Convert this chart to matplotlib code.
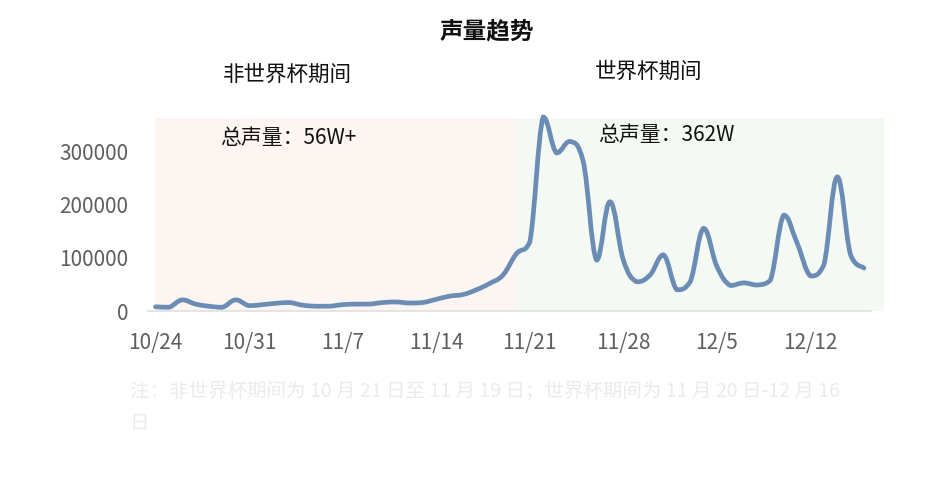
import matplotlib
matplotlib.use("Agg")
from matplotlib import pyplot as plt
import matplotlib.dates as mdates
from matplotlib.path import Path
from matplotlib.patches import PathPatch
import numpy as np
import pandas as pd

plt.rcParams['font.family'] = ['Noto Sans CJK SC', 'DejaVu Sans']

# daily volume 10/24 - 12/16
dates = pd.date_range('2022-10-24', '2022-12-16')
volume = [8000, 7000, 21000, 13000, 9000, 7000, 21000, 10000, 12000, 14500,
          16000, 11000, 9000, 9000, 12000, 13000, 13000, 16000, 17000, 15000,
          16000, 22000, 28000, 31000, 40000, 52000, 68000, 108000, 130000, 366000,
          298000, 320000, 282000, 96000, 206000, 96000, 55000, 68000, 106000, 40000,
          55000, 156000, 84000, 48000, 53000, 49000, 58000, 181000, 128000, 66000,
          87000, 253000, 106000, 81000]
tick_dates = ['2022-10-24', '2022-10-31', '2022-11-07', '2022-11-14', '2022-11-21',
              '2022-11-28', '2022-12-05', '2022-12-12']
tick_labels = ['10/24', '10/31', '11/7', '11/14', '11/21', '11/28', '12/5', '12/12']
yticks = [0, 100000, 200000, 300000]


def smooth_path(x, y, k=0.2):
    # bezier through every point, handles kept inside each segment's y range
    verts = [(x[0], y[0])]
    codes = [Path.MOVETO]
    n = len(x)
    for i in range(n - 1):
        lo, hi = min(y[i], y[i + 1]), max(y[i], y[i + 1])
        x0, y0 = (x[i - 1], y[i - 1]) if i > 0 else (x[i], y[i])
        x3, y3 = (x[i + 2], y[i + 2]) if i + 2 < n else (x[i + 1], y[i + 1])
        c1 = (x[i] + (x[i + 1] - x0) * k, np.clip(y[i] + (y[i + 1] - y0) * k, lo, hi))
        c2 = (x[i + 1] - (x3 - x[i]) * k, np.clip(y[i + 1] - (y3 - y[i]) * k, lo, hi))
        verts += [c1, c2, (x[i + 1], y[i + 1])]
        codes += [Path.CURVE4] * 3
    return Path(verts, codes)


W, H = 932, 479
fig = plt.figure(figsize=(W / 100, H / 100), dpi=100)
ax = fig.add_axes([148 / W, (H - 311) / H, (884 - 148) / W, 193 / H])

d0 = mdates.date2num(pd.Timestamp('2022-10-24'))
split = mdates.date2num(pd.Timestamp('2022-11-20'))
ax.axvspan(d0, split, color='#fdf5f2', lw=0, zorder=0)
ax.axvspan(split, d0 + 54.5, color='#f5f9f3', lw=0, zorder=0)

xs = np.asarray(mdates.date2num(dates), dtype=float)
ax.add_patch(PathPatch(smooth_path(xs, np.asarray(volume, dtype=float)),
                       facecolor='none', edgecolor='#6b8db5', lw=3.4,
                       joinstyle='round', capstyle='round', zorder=3, clip_on=False))

ax.set_xlim(d0 - 0.56, d0 + 54.5)
ax.set_ylim(0, 364000)
ax.set_xticks(mdates.date2num(pd.to_datetime(tick_dates)))
ax.set_xticklabels(tick_labels)
ax.set_yticks(yticks)
ax.set_yticklabels([str(v) for v in yticks])
ax.tick_params(length=0, labelsize=15, labelcolor='#5f5f5f')
ax.tick_params(axis='x', pad=15)
ax.tick_params(axis='y', pad=14)
for s in ['top', 'right', 'left']:
    ax.spines[s].set_visible(False)
ax.spines['bottom'].set_color('#e0e0e0')
ax.spines['bottom'].set_linewidth(1.2)
ax.spines['bottom'].set_bounds(d0 - 0.56, d0 + 53.56)
ax.set_facecolor('none')

fig.text(487 / W, 1 - 31 / H, '声量趋势', ha='center', va='center',
         fontsize=17, fontweight='bold', color='#111111')
fig.text(287 / W, 1 - 75 / H, '非世界杯期间', ha='center', va='center',
         fontsize=15.5, color='#111111')
fig.text(649 / W, 1 - 72 / H, '世界杯期间', ha='center', va='center',
         fontsize=15.5, color='#111111')
fig.text(220 / W, 1 - 138 / H, '总声量：56W+', ha='left', va='center',
         fontsize=15, color='#111111')
fig.text(598 / W, 1 - 135 / H, '总声量：362W', ha='left', va='center',
         fontsize=15, color='#111111')
fig.text(130 / W, 1 - 391 / H,
         '注：非世界杯期间为 10 月 21 日至 11 月 19 日；世界杯期间为 11 月 20 日-12 月 16',
         ha='left', va='center', fontsize=14, color='#ebebeb')
fig.text(130 / W, 1 - 424 / H, '日', ha='left', va='center', fontsize=14, color='#ebebeb')

fig.savefig('out.png', dpi=100)
